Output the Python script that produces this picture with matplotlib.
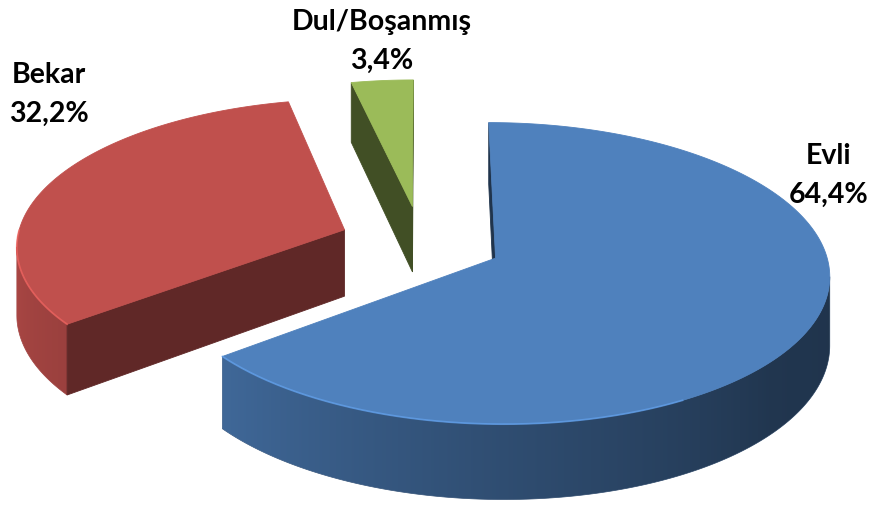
import numpy as np
import matplotlib
matplotlib.use('Agg')
import matplotlib.pyplot as plt
from matplotlib.patches import Polygon
from matplotlib.colors import to_rgb

# data
labels = ['Evli', 'Bekar', 'Dul/Boşanmış']
values = [64.4, 32.2, 3.4]
pct_text = ['64,4%', '32,2%', '3,4%']

# style
colors = ['#4F81BD', '#C0504D', '#9BBB59']
EXPLODE = 0.25      # fraction of radius every slice is pulled out
CX, CY = 421, 242   # screen centre of the unexploded pie (pixels)
A, B = 328, 146     # horizontal / depth scale of the ellipse
THICK = 67          # wall height in pixels
D = 10.0            # perspective distance

label_pos = [(829, 156), (49, 75), (382, 22)]


def project(x, y, z):
    # x right, y away from viewer, z up (0 = top, -1 = bottom)
    s = D / (D + y)
    return CX + s * A * x, CY - s * (B * y + THICK * z)


def shade(rgb, f):
    return tuple(min(1, c * f) for c in rgb)


def wall_factor(deg):
    deg = deg % 360
    return np.interp(deg, [0, 90, 180, 220, 270, 320, 360],
                     [0.40, 0.40, 0.90, 0.80, 0.60, 0.42, 0.40])


def area(pts):
    x = pts[:, 0]
    y = -pts[:, 1]
    return 0.5 * np.sum(x * np.roll(y, -1) - np.roll(x, -1) * y)


def face(ax, pts3d, col, z):
    pts = np.array([project(*p) for p in pts3d])
    if area(pts) <= 0:
        return
    ax.add_patch(Polygon(pts, closed=True, fc=col, ec=col, lw=0.6, zorder=z))


def wall(ax, base, th, rx, ry, z):
    # visible strips of the outer wall
    vis = []
    for k in range(len(th) - 1):
        q = np.array([project(rx[k], ry[k], 0), project(rx[k], ry[k], -1),
                      project(rx[k + 1], ry[k + 1], -1), project(rx[k + 1], ry[k + 1], 0)])
        vis.append(area(q) > 0)
    vis = np.array(vis)
    k = 0
    while k < len(vis):
        if not vis[k]:
            k += 1
            continue
        j = k
        while j < len(vis) and vis[j]:
            j += 1
        idx = np.arange(k, j + 1)
        topp = np.array([project(rx[n], ry[n], 0) for n in idx])
        botp = np.array([project(rx[n], ry[n], -1) for n in idx])
        poly = np.vstack([topp, botp[::-1]])
        # colour by screen column
        xs = (topp[:, 0] + botp[:, 0]) / 2
        fs = wall_factor(np.degrees(th[idx]))
        order = np.argsort(xs)
        x0, x1 = poly[:, 0].min(), poly[:, 0].max()
        y0, y1 = poly[:, 1].min(), poly[:, 1].max()
        cols = np.linspace(x0, x1, max(int(x1 - x0), 2))
        f = np.interp(cols, xs[order], fs[order])
        img = np.array([[shade(base, v) for v in f]] * 2)
        mean_col = shade(base, float(np.mean(f)))
        patch = Polygon(poly, closed=True, fc='none', ec=mean_col, lw=0.5, zorder=z)
        ax.add_patch(patch)
        im = ax.imshow(img, extent=(x0, x1, y1, y0), aspect='auto',
                       interpolation='bilinear', zorder=z)
        im.set_clip_path(patch)
        k = j


fig = plt.figure(figsize=(8.74, 5.15), dpi=100)
ax = fig.add_axes([0, 0, 1, 1])

# slice angles: start at 12 o'clock, go clockwise
fr = np.array(values) / sum(values)
ends = 90 - np.cumsum(fr) * 360
starts = np.concatenate([[90], ends[:-1]])

slices = []
for i in range(len(values)):
    t1, t2 = ends[i], starts[i]          # counter-clockwise from t1 to t2
    mid = np.radians((t1 + t2) / 2)
    ox, oy = EXPLODE * np.cos(mid), EXPLODE * np.sin(mid)
    slices.append((oy, i, t1, t2, ox))

# back to front
slices.sort(key=lambda s: -s[0])
for order, (oy, i, t1, t2, ox) in enumerate(slices):
    base = to_rgb(colors[i])
    z0 = order * 10
    th = np.radians(np.linspace(t1, t2, max(int(t2 - t1) * 2, 8)))
    rx, ry = ox + np.cos(th), oy + np.sin(th)

    wall(ax, base, th, rx, ry, z0)

    # radial cut faces
    dark = shade(base, 0.5 if i != 2 else 0.42)
    if i == 0:
        dark = shade(base, 0.4)
    face(ax, [(ox, oy, 0), (ox, oy, -1), (rx[0], ry[0], -1), (rx[0], ry[0], 0)], dark, z0 + 1)
    face(ax, [(ox, oy, 0), (rx[-1], ry[-1], 0), (rx[-1], ry[-1], -1), (ox, oy, -1)], dark, z0 + 1)

    # top
    top = [project(ox, oy, 0)] + [project(x, y, 0) for x, y in zip(rx, ry)]
    ax.add_patch(Polygon(np.array(top), closed=True, fc=base, ec=base, lw=0.6, zorder=z0 + 2))

    # light rim on the front edge
    front = (np.sin(th) < 0) & (np.cos(th) < 0.5)
    if front.any():
        pts = np.array([project(x, y, 0) for x, y in zip(rx[front], ry[front])])
        ax.plot(pts[:, 0], pts[:, 1], color=shade(base, 1.3), lw=1.3, alpha=0.6, zorder=z0 + 3)

for i, (x, y) in enumerate(label_pos):
    ax.text(x, y, labels[i], ha='center', va='center', fontsize=20.5, fontweight='bold',
            family='Lato', color='black', zorder=50)
    ax.text(x, y + 39, pct_text[i], ha='center', va='center', fontsize=20.5, fontweight='bold',
            family='Lato', color='black', zorder=50)

ax.set_xlim(0, 874)
ax.set_ylim(515, 0)
ax.axis('off')

fig.savefig('out.png', dpi=100)
